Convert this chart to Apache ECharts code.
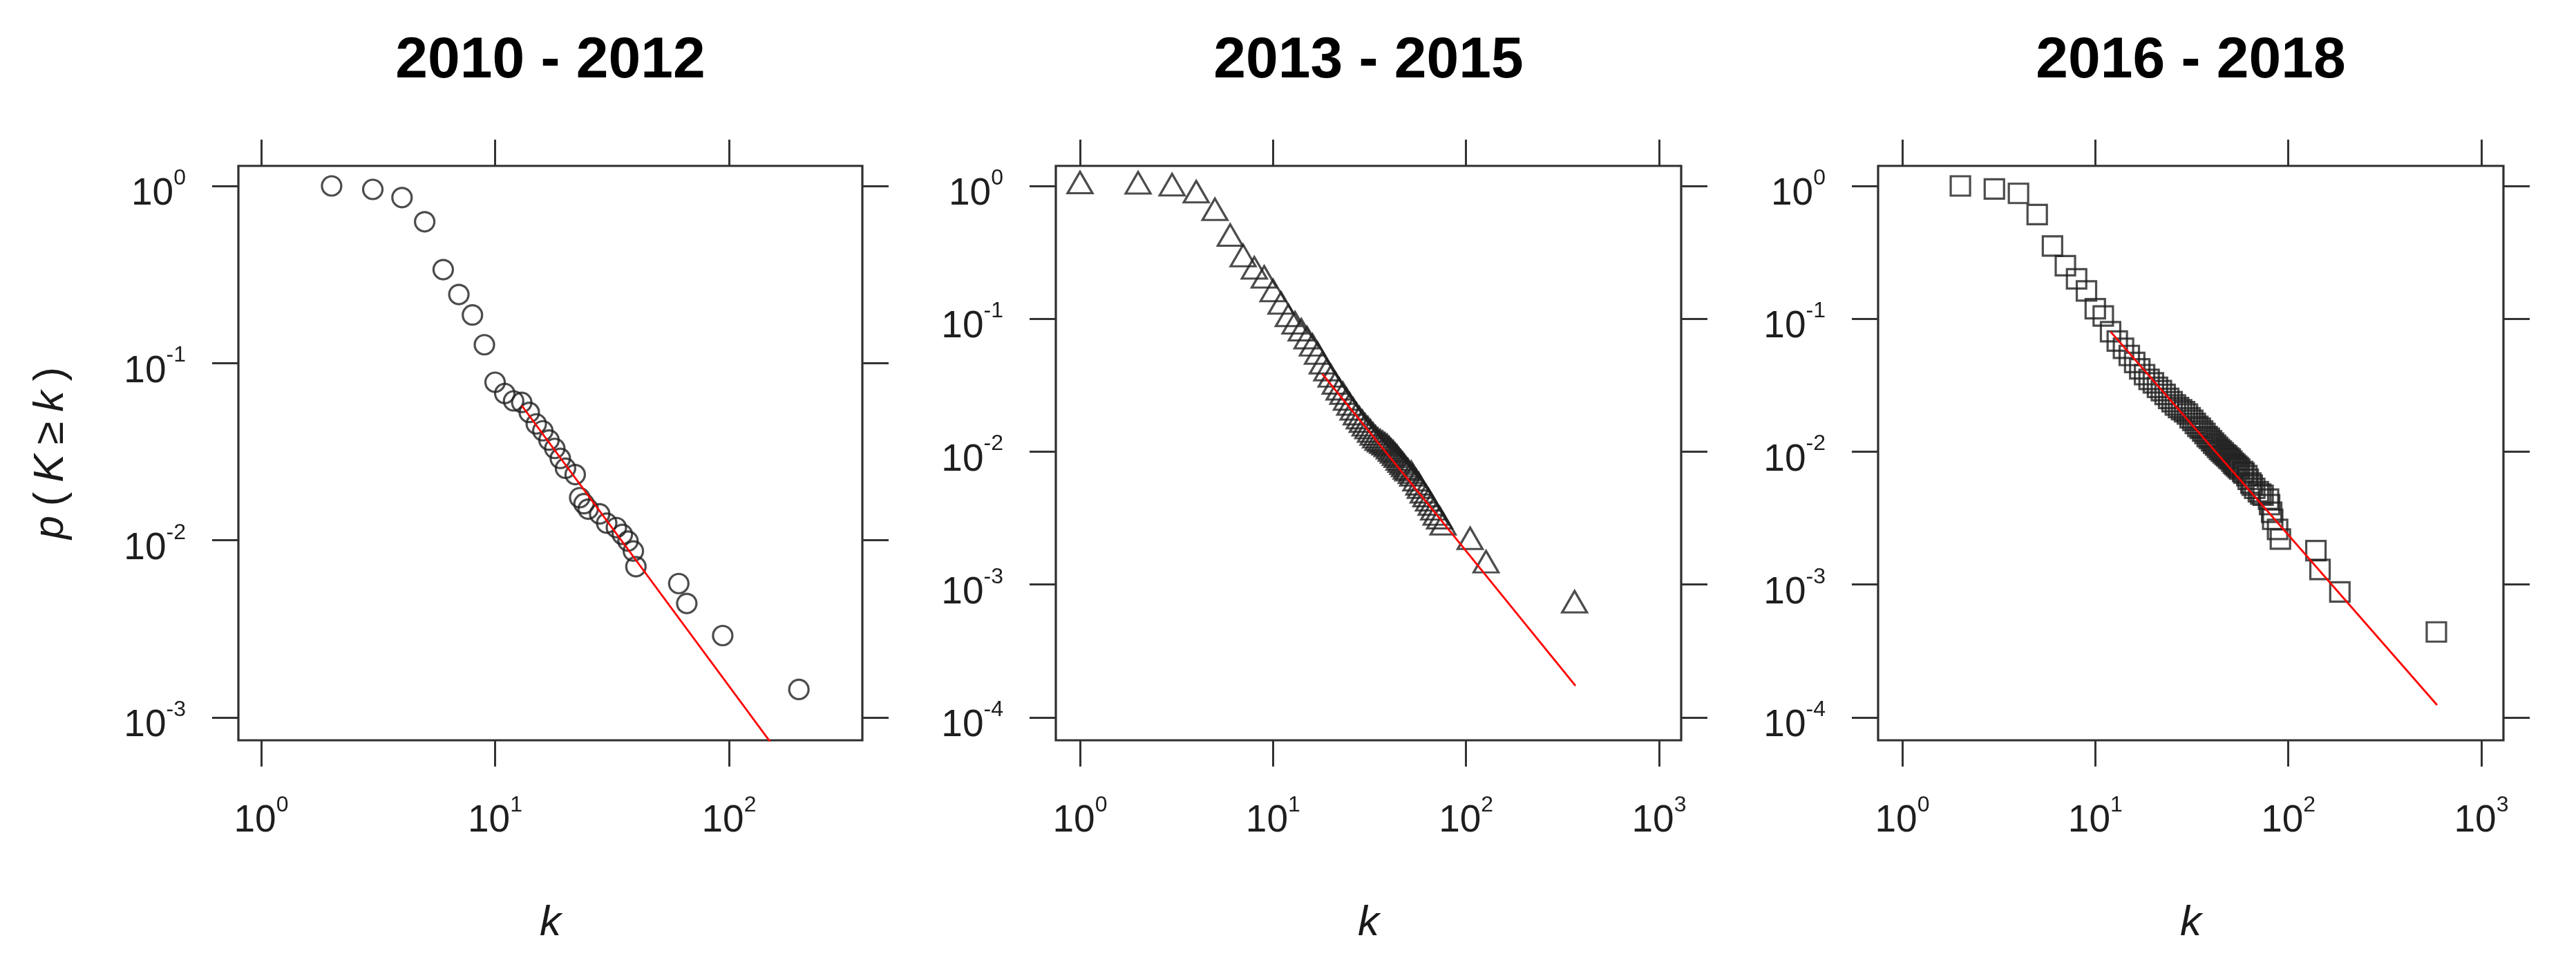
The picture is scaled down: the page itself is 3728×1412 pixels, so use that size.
<!DOCTYPE html>
<html>
<head>
<meta charset="utf-8">
<script src="https://cdn.jsdelivr.net/npm/echarts@6/dist/echarts.min.js"></script>
<style>
html,body{margin:0;padding:0;background:#ffffff;}
#chart{width:3728px;height:1412px;}
</style>
</head>
<body>
<div id="chart"></div>
<script>
// ---------------- data ----------------
const panelTitles = ['2010 - 2012', '2013 - 2015', '2016 - 2018'];

// 2010 - 2012 (circles)
const k1 = [2, 3, 4, 5, 6, 7, 8, 9, 10, 11, 12, 13, 14, 15, 16, 17, 18, 19, 20, 22, 23, 24, 25, 28, 30, 33, 35, 37, 39, 40, 61, 66, 94, 199];
const p1 = [1.0, 0.956, 0.86, 0.628, 0.337, 0.244, 0.187, 0.127, 0.078, 0.0674, 0.0612, 0.0600, 0.0527, 0.0454, 0.0415, 0.0368, 0.0330, 0.0290, 0.0255, 0.0235, 0.0174, 0.0161, 0.0150, 0.0141, 0.0125, 0.0118, 0.0108, 0.0099, 0.0087, 0.0071, 0.0057, 0.0044, 0.0029, 0.00144];

// 2013 - 2015 (triangles)
const k2 = [1, 2, 3, 4, 5, 6, 7, 8, 9, 10, 11, 12, 13, 14, 15, 16, 17, 18, 19, 20, 21, 22, 23, 24, 25, 26, 27, 28, 29, 30, 31, 32, 33, 34, 35, 36, 37, 38, 39, 40, 41, 42, 43, 44, 45, 46, 47, 48, 49, 50, 52, 53, 55, 57, 58, 60, 62, 64, 66, 68, 70, 73, 76, 105, 127, 365];
const p2 = [1.0, 0.995, 0.963, 0.853, 0.628, 0.402, 0.282, 0.228, 0.195, 0.154, 0.124, 0.100, 0.088, 0.078, 0.068, 0.060, 0.052, 0.044, 0.039, 0.035, 0.031, 0.028, 0.026, 0.0235, 0.0215, 0.0198, 0.0182, 0.0170, 0.0160, 0.0150, 0.0143, 0.0135, 0.0128, 0.0122, 0.0117, 0.0114, 0.0111, 0.0108, 0.0105, 0.0101, 0.0097, 0.0094, 0.0090, 0.0087, 0.0083, 0.0080, 0.0077, 0.0074, 0.0071, 0.0069, 0.0066, 0.0063, 0.0058, 0.0054, 0.0051, 0.0047, 0.0044, 0.0041, 0.0038, 0.0035, 0.0032, 0.0030, 0.0027, 0.0021, 0.0014, 0.0007];

// 2016 - 2018 (squares)
const k3 = [2, 3, 4, 5, 6, 7, 8, 9, 10, 11, 12, 13, 14, 15, 16, 17, 18, 19, 20, 21, 22, 23, 24, 25, 26, 27, 28, 29, 30, 31, 32, 33, 34, 35, 36, 37, 38, 39, 40, 41, 42, 43, 44, 45, 46, 47, 48, 49, 50, 51, 52, 53, 54, 55, 56, 58, 59, 61, 62, 64, 65, 67, 70, 72, 74, 79, 80, 82, 83, 88, 91, 139, 146, 185, 585];
const p3 = [1.0, 0.95, 0.879, 0.609, 0.353, 0.251, 0.200, 0.162, 0.119, 0.105, 0.080, 0.068, 0.060, 0.053, 0.047, 0.042, 0.038, 0.035, 0.033, 0.0305, 0.0288, 0.0270, 0.0252, 0.0238, 0.0225, 0.0215, 0.0207, 0.0200, 0.0192, 0.0180, 0.0172, 0.0163, 0.0155, 0.0150, 0.0143, 0.0137, 0.0130, 0.0126, 0.0121, 0.0116, 0.0112, 0.0108, 0.0104, 0.0101, 0.0098, 0.0095, 0.0093, 0.0090, 0.0088, 0.0085, 0.0082, 0.0080, 0.0078, 0.0076, 0.0074, 0.0071, 0.0069, 0.0066, 0.0062, 0.0058, 0.0056, 0.0053, 0.0050, 0.0048, 0.0047, 0.0044, 0.0040, 0.0035, 0.0031, 0.0026, 0.0022, 0.0018, 0.0013, 0.00088, 0.00044];

// fitted power-law lines (red): end points
const fitK1 = [13, 199];
const fitP1 = [0.0576, 0.00044];
const fitK2 = [18, 369];
const fitP2 = [0.0385, 0.000173];
const fitK3 = [12, 590];
const fitP3 = [0.080, 0.000124];

// tick values
const xTicks1 = [1, 10, 100];
const xTicks23 = [1, 10, 100, 1000];
const yTicks1 = [1, 0.1, 0.01, 0.001];
const yTicks23 = [1, 0.1, 0.01, 0.001, 0.0001];

// axis ranges
const xRange1 = [0.7989, 371.7];
const xRange23 = [0.7494, 1302.2];
const yRange1 = [0.0007435, 1.2977];
const yRange23 = [0.00006733, 1.4152];

const xAxisName = 'k';

// ---------------- layout / style ----------------
const FONT = '"Liberation Sans", Arial, Helvetica, sans-serif';
const INK = '#1f1f1f';
const grids = [
  { left: 345, top: 240, width: 903, height: 831 },
  { left: 1528, top: 240, width: 905, height: 831 },
  { left: 2718, top: 240, width: 905, height: 831 }
];
const panels = [
  { k: k1, p: p1, fk: fitK1, fp: fitP1, xt: xTicks1, yt: yTicks1, xr: xRange1, yr: yRange1,
    symbol: 'circle', size: 28, offset: [0, 0] },
  { k: k2, p: p2, fk: fitK2, fp: fitP2, xt: xTicks23, yt: yTicks23, xr: xRange23, yr: yRange23,
    symbol: 'triangle', size: [36, 31], offset: [0, -5] },
  { k: k3, p: p3, fk: fitK3, fp: fitP3, xt: xTicks23, yt: yTicks23, xr: xRange23, yr: yRange23,
    symbol: 'rect', size: 28, offset: [0, 0] }
];

function powLabel(v) {
  const e = Math.round(Math.log10(v));
  return '{b|10}{s|' + (e < 0 ? '-' + (-e) : String(e)) + '}';
}
const labelRich = {
  b: { fontSize: 55, lineHeight: 78, fontFamily: FONT, color: '#1e1e1e' },
  s: { fontSize: 32, lineHeight: 32, verticalAlign: 'top', fontFamily: FONT, color: '#1e1e1e' }
};
const tickStyle = { color: '#333', width: 3 };

const xAxes = [], yAxes = [], series = [], graphics = [];

panels.forEach((pn, g) => {
  // bottom x axis
  xAxes.push({
    type: 'log', logBase: 10, gridIndex: g, position: 'bottom',
    min: pn.xr[0], max: pn.xr[1],
    axisLine: { show: false }, splitLine: { show: false }, minorTick: { show: false },
    axisTick: { show: true, inside: false, length: 38, customValues: pn.xt, lineStyle: tickStyle },
    axisLabel: { show: true, margin: 78, customValues: pn.xt, formatter: powLabel, rich: labelRich, color: '#1e1e1e' },
    name: xAxisName, nameLocation: 'middle', nameGap: 234,
    nameTextStyle: { fontSize: 62, lineHeight: 62, fontStyle: 'italic', fontFamily: FONT, color: '#1a1a1a' }
  });
  // top x axis (ticks only)
  xAxes.push({
    type: 'log', logBase: 10, gridIndex: g, position: 'top',
    min: pn.xr[0], max: pn.xr[1],
    axisLine: { show: false }, splitLine: { show: false }, axisLabel: { show: false },
    axisTick: { show: true, inside: false, length: 38, customValues: pn.xt, lineStyle: tickStyle }
  });
  // left y axis
  const yLeft = {
    type: 'log', logBase: 10, gridIndex: g, position: 'left',
    min: pn.yr[0], max: pn.yr[1],
    axisLine: { show: false }, splitLine: { show: false }, minorTick: { show: false },
    axisTick: { show: true, inside: false, length: 38, customValues: pn.yt, lineStyle: tickStyle },
    axisLabel: { show: true, margin: 76, customValues: pn.yt, formatter: powLabel, rich: labelRich,
                 padding: [24, 0, 0, 0], color: '#1e1e1e' }
  };
  if (g === 0) {
    yLeft.name = '{i|p}{n|(}{i|K}{n|\u2265}{i|k}{n|)}';
    yLeft.nameLocation = 'middle';
    yLeft.nameRotate = 90;
    yLeft.nameGap = 240;
    yLeft.nameTextStyle = {
      fontSize: 61, lineHeight: 61, fontFamily: FONT, color: '#1a1a1a',
      rich: {
        i: { fontSize: 61, lineHeight: 61, fontStyle: 'italic', fontFamily: FONT, color: '#1a1a1a', padding: [0, 7, 0, 7] },
        n: { fontSize: 61, lineHeight: 61, fontFamily: FONT, color: '#1a1a1a', padding: [0, 7, 0, 7] }
      }
    };
  }
  yAxes.push(yLeft);
  // right y axis (ticks only)
  yAxes.push({
    type: 'log', logBase: 10, gridIndex: g, position: 'right',
    min: pn.yr[0], max: pn.yr[1],
    axisLine: { show: false }, splitLine: { show: false }, axisLabel: { show: false },
    axisTick: { show: true, inside: false, length: 38, customValues: pn.yt, lineStyle: tickStyle }
  });

  series.push({
    type: 'scatter', xAxisIndex: 2 * g, yAxisIndex: 2 * g,
    data: pn.k.map((kv, i) => [kv, pn.p[i]]),
    symbol: pn.symbol, symbolSize: pn.size, symbolOffset: pn.offset,
    itemStyle: { color: 'rgba(0,0,0,0)', borderColor: INK, borderWidth: 3.2 },
    emphasis: { disabled: true }, silent: true, z: 2
  });
  series.push({
    type: 'line', xAxisIndex: 2 * g, yAxisIndex: 2 * g,
    data: pn.fk.map((kv, i) => [kv, pn.fp[i]]),
    showSymbol: false, symbol: 'none', clip: true,
    lineStyle: { color: '#ff0000', width: 2.8 },
    emphasis: { disabled: true }, silent: true, z: 3
  });

  const gr = grids[g];
  graphics.push({
    type: 'text', x: gr.left + gr.width / 2, y: 89,
    style: {
      text: panelTitles[g], fontSize: 84, fontWeight: 'bold', fontFamily: FONT, fill: '#000',
      align: 'center', verticalAlign: 'middle', textAlign: 'center', textVerticalAlign: 'middle'
    }
  });
});

const chart = echarts.init(document.getElementById('chart'), null, { renderer: 'canvas' });
chart.setOption({
  animation: false,
  backgroundColor: '#ffffff',
  grid: grids.map(g => Object.assign({
    show: true, borderColor: '#2e2e2e', borderWidth: 3.2, backgroundColor: 'transparent',
    containLabel: false, outerBoundsMode: 'none'
  }, g)),
  xAxis: xAxes,
  yAxis: yAxes,
  series: series,
  graphic: graphics
});
</script>
</body>
</html>
